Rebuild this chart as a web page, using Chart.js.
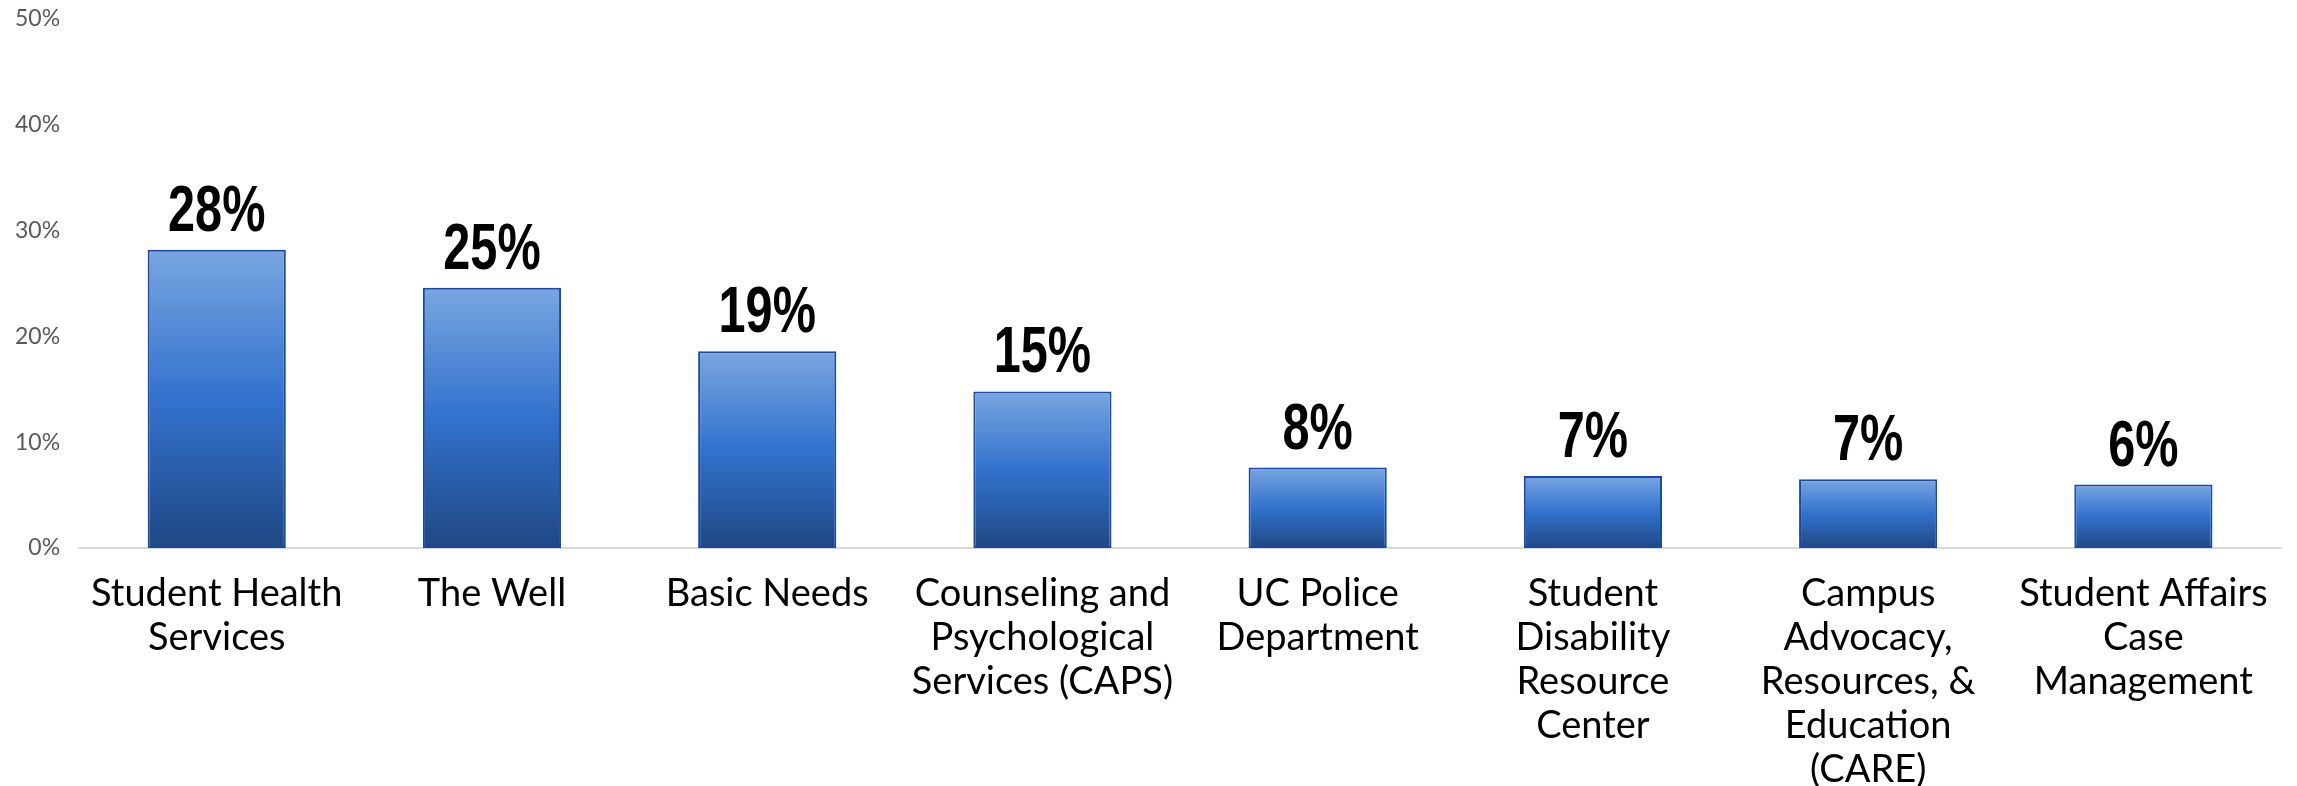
<!DOCTYPE html>
<html>
<head>
<meta charset="utf-8">
<script src="https://cdn.jsdelivr.net/npm/chart.js@4"></script>
<style>
    html, body { margin: 0; padding: 0; background: #fff; }
    #wrap { width: 2297px; height: 786px; }
</style>
</head>
<body>
<div id="wrap"><canvas id="myChart"></canvas></div>
<script>
// categories (multi-line labels as in the picture)
const categories = [
    ['Student Health', 'Services'],
    'The Well',
    'Basic Needs',
    ['Counseling and', 'Psychological', 'Services (CAPS)'],
    ['UC Police', 'Department'],
    ['Student', 'Disability', 'Resource', 'Center'],
    ['Campus', 'Advocacy,', 'Resources, &', 'Education', '(CARE)'],
    ['Student Affairs', 'Case', 'Management']
];
// percent values
const values = [28.2, 24.6, 18.6, 14.8, 7.6, 6.8, 6.5, 6.0];
// labels printed above the bars
const valueLabels = ['28%', '25%', '19%', '15%', '8%', '7%', '7%', '6%'];
const yTicks = [0, 10, 20, 30, 40, 50];

// gradient for each bar, light at the top and dark at the base
function barGradient(context) {
    const chart = context.chart;
    if (!chart.chartArea) return '#3474cf';
    const y = chart.scales.y;
    const top = y.getPixelForValue(context.raw);
    const bottom = y.getPixelForValue(0);
    const g = chart.ctx.createLinearGradient(0, top, 0, bottom);
    g.addColorStop(0, '#78a6e0');
    g.addColorStop(0.5, '#3272cd');
    g.addColorStop(1, '#1f4884');
    return g;
}

// draws the big bold value above each bar (font squeezed a bit, the original is a narrow face)
const valueLabelPlugin = {
    id: 'valueLabels',
    afterDatasetsDraw(chart) {
        const ctx = chart.ctx;
        const meta = chart.getDatasetMeta(0);
        const squeeze = 0.76;
        meta.data.forEach((bar, i) => {
            ctx.save();
            ctx.font = 'bold 64px "Liberation Sans", Arial, sans-serif';
            ctx.fillStyle = '#000';
            ctx.textAlign = 'center';
            ctx.textBaseline = 'alphabetic';
            ctx.translate(bar.x, bar.y - 19);
            ctx.scale(squeeze, 1);
            ctx.fillText(valueLabels[i], 0, 0);
            ctx.restore();
        });
    }
};

const ctx = document.getElementById('myChart');
new Chart(ctx, {
    type: 'bar',
    data: {
        labels: categories,
        datasets: [{
            data: values,
            backgroundColor: barGradient,
            borderColor: '#1a48a6',
            borderWidth: 2,
            borderSkipped: false,
            categoryPercentage: 1,
            barPercentage: 0.502
        }]
    },
    options: {
        responsive: true,
        maintainAspectRatio: false,
        animation: false,
        layout: {
            // tuned by eye so the plot sits where the original one does
            padding: { top: 19, left: -4, right: 16, bottom: -30 }
        },
        plugins: {
            legend: { display: false },
            tooltip: { enabled: false }
        },
        scales: {
            x: {
                afterFit: scale => { scale.paddingLeft = 0; scale.paddingRight = 0; },
                grid: { display: false, drawTicks: false },
                border: { display: true, color: '#d9d9d9', width: 2 },
                ticks: {
                    color: '#000',
                    font: { family: 'Lato', size: 38, lineHeight: 1.158 },
                    padding: 24,
                    maxRotation: 0,
                    autoSkip: false
                }
            },
            y: {
                min: 0,
                max: 50,
                afterBuildTicks: axis => { axis.ticks = yTicks.map(v => ({ value: v })); },
                afterFit: scale => { scale.paddingTop = 0; scale.paddingBottom = 0; },
                grid: { display: false, drawTicks: false },
                border: { display: false },
                ticks: {
                    color: '#595959',
                    font: { family: 'Lato', size: 23 },
                    padding: 19,
                    callback: v => v + '%'
                }
            }
        }
    },
    plugins: [valueLabelPlugin]
});
</script>
</body>
</html>
